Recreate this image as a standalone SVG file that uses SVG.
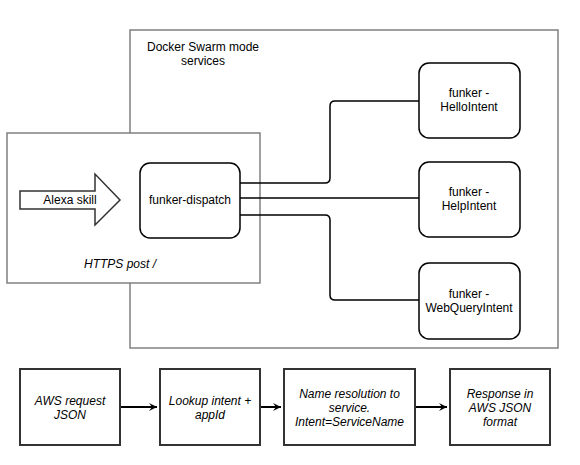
<svg xmlns="http://www.w3.org/2000/svg" width="580" height="465" viewBox="0 0 580 465">
<style>
text{font-family:"Liberation Sans",Arial,sans-serif;font-size:12px;fill:#000;text-anchor:middle}
.it{font-style:italic}
.grp{fill:#fff;stroke:#808080;stroke-width:1.5}
.svc{fill:#fff;stroke:#000;stroke-width:1.5}
.step{fill:#fff;stroke:#333;stroke-width:2}
.conn{fill:none;stroke:#000;stroke-width:1.5}
.flow{fill:none;stroke:#000;stroke-width:2}
</style>
<defs>
<marker id="ah" markerWidth="10" markerHeight="10" refX="8" refY="4" orient="auto" markerUnits="userSpaceOnUse">
<path d="M0,0 L8,4 L0,8 L3,4 z" fill="#000"/>
</marker>
</defs>
<g id="swarm">
<rect class="grp" x="130" y="30" width="428" height="318"/>
<text x="203" y="51">Docker Swarm mode</text>
<text x="203" y="65">services</text>
</g>
<g id="https">
<rect class="grp" x="7" y="133" width="253" height="150"/>
<text class="it" x="120" y="268">HTTPS post /</text>
</g>
<g id="connectors">
<path class="conn" d="M240,183 H325 Q330,183 330,178 V106 Q330,101 335,101 H419"/>
<path class="conn" d="M240,198 H419"/>
<path class="conn" d="M240,215 H325 Q330,215 330,220 V295 Q330,300 335,300 H419"/>
<path class="flow" d="M120,407 H157" marker-end="url(#ah)"/>
<path class="flow" d="M260,407 H281" marker-end="url(#ah)"/>
<path class="flow" d="M415,407 H447" marker-end="url(#ah)"/>
</g>
<g id="alexa">
<path d="M20,191 H95 V174 L120,200 L95,225 V209 H20 Z" fill="#fff" stroke="#333" stroke-width="1.5"/>
<text x="70" y="204">Alexa skill</text>
</g>
<g id="dispatch">
<rect class="svc" x="140" y="163" width="100" height="75" rx="10"/>
<text x="190" y="204">funker-dispatch</text>
</g>
<g id="hello">
<rect class="svc" x="419" y="63" width="101" height="75" rx="10"/>
<text x="469" y="97">funker -</text>
<text x="469" y="111">HelloIntent</text>
</g>
<g id="help">
<rect class="svc" x="419" y="162" width="101" height="75" rx="10"/>
<text x="469" y="196">funker -</text>
<text x="469" y="210">HelpIntent</text>
</g>
<g id="webquery">
<rect class="svc" x="419" y="263" width="101" height="76" rx="10"/>
<text x="469" y="298">funker -</text>
<text x="469" y="312">WebQueryIntent</text>
</g>
<g id="step1">
<rect class="step" x="20" y="369" width="100" height="76"/>
<text class="it" x="70" y="405">AWS request</text>
<text class="it" x="70" y="419">JSON</text>
</g>
<g id="step2">
<rect class="step" x="160" y="369" width="100" height="76"/>
<text class="it" x="210" y="405">Lookup intent +</text>
<text class="it" x="210" y="419">appId</text>
</g>
<g id="step3">
<rect class="step" x="284" y="369" width="131" height="76"/>
<text class="it" x="349.5" y="398">Name resolution to</text>
<text class="it" x="349.5" y="412">service.</text>
<text class="it" x="349.5" y="426">Intent=ServiceName</text>
</g>
<g id="step4">
<rect class="step" x="450" y="369" width="100" height="76"/>
<text class="it" x="500" y="398">Response in</text>
<text class="it" x="500" y="412">AWS JSON</text>
<text class="it" x="500" y="426">format</text>
</g>
</svg>
